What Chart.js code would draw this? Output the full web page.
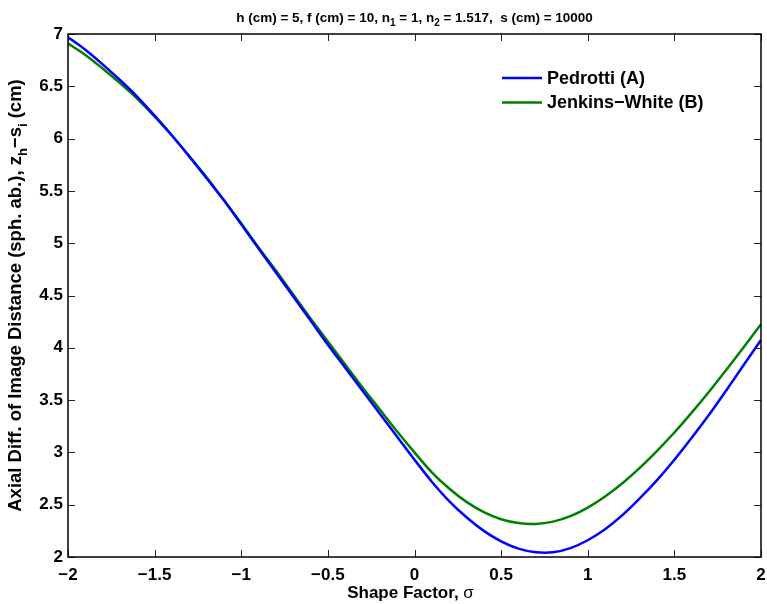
<!DOCTYPE html>
<html>
<head>
<meta charset="utf-8">
<script src="https://cdn.jsdelivr.net/npm/chart.js@4.4.1/dist/chart.umd.min.js"></script>
<style>
  html, body { margin: 0; padding: 0; background: #fff; }
  #wrap { width: 767px; height: 604px; }
</style>
</head>
<body>
<div id="wrap"><canvas id="c" width="767" height="604"></canvas></div>
<script>
// Shape factor values and the axial image-distance difference for each lens model
const sigma = [
  -2.0, -1.9, -1.8, -1.7, -1.6, -1.5, -1.4, -1.3, -1.2, -1.1, -1.0,
  -0.9, -0.8, -0.7, -0.6, -0.5, -0.4, -0.3, -0.2, -0.1, 0.0,
  0.1, 0.2, 0.3, 0.4, 0.5, 0.6, 0.7, 0.8, 0.9, 1.0,
  1.1, 1.2, 1.3, 1.4, 1.5, 1.6, 1.7, 1.8, 1.9, 2.0
];
const pedrotti = [
  6.97, 6.85, 6.71, 6.56, 6.40, 6.22, 6.03, 5.83, 5.62, 5.41, 5.18,
  4.95, 4.72, 4.49, 4.26, 4.03, 3.81, 3.59, 3.37, 3.15, 2.93,
  2.72, 2.535, 2.38, 2.25, 2.15, 2.08, 2.045, 2.045, 2.085, 2.16,
  2.265, 2.40, 2.56, 2.735, 2.93, 3.14, 3.36, 3.595, 3.835, 4.075
];
const jenkinsWhite = [
  6.91, 6.80, 6.67, 6.53, 6.38, 6.21, 6.03, 5.83, 5.63, 5.41, 5.19,
  4.96, 4.74, 4.51, 4.28, 4.06, 3.84, 3.62, 3.41, 3.20, 3.00,
  2.81, 2.655, 2.527, 2.429, 2.361, 2.324, 2.316, 2.338, 2.39, 2.472,
  2.578, 2.705, 2.852, 3.015, 3.19, 3.38, 3.58, 3.79, 4.005, 4.225
];
const xTickValues = [-2, -1.5, -1, -0.5, 0, 0.5, 1, 1.5, 2];
const yTickValues = [2, 2.5, 3, 3.5, 4, 4.5, 5, 5.5, 6, 6.5, 7];
const seriesNames = ['Pedrotti (A)', 'Jenkins\u2212White (B)'];

const FONT = '"Liberation Sans", Arial, Helvetica, sans-serif';

function toPoints(xs, ys) { return xs.map((x, i) => ({ x: x, y: ys[i] })); }
function fmt(v) { return String(v).replace('-', '\u2212'); }

// Text runs with optional subscript pieces
function richWidth(ctx, parts, size) {
  let w = 0;
  for (const p of parts) {
    ctx.font = (p.normal ? '' : 'bold ') + (p.sub ? Math.round(size * 0.72) : size) + 'px ' + FONT;
    w += ctx.measureText(p.t).width;
  }
  return w;
}
function drawRich(ctx, parts, x, y, size) {
  let cx = x;
  for (const p of parts) {
    const s = p.sub ? Math.round(size * 0.72) : size;
    ctx.font = (p.normal ? '' : 'bold ') + s + 'px ' + FONT;
    ctx.fillText(p.t, cx, p.sub ? y + size * 0.32 : y);
    cx += ctx.measureText(p.t).width;
  }
}

const decorations = {
  id: 'decorations',
  afterDatasetsDraw(chart) {
    const ctx = chart.ctx;
    const a = chart.chartArea;
    const xs = chart.scales.x, ys = chart.scales.y;
    ctx.save();
    // inward ticks on all four sides
    ctx.strokeStyle = '#222';
    ctx.lineWidth = 1;
    const tl = 7;
    ctx.beginPath();
    xs.ticks.forEach(t => {
      const px = Math.round(xs.getPixelForValue(t.value)) + 0.5;
      ctx.moveTo(px, a.bottom); ctx.lineTo(px, a.bottom - tl);
      ctx.moveTo(px, a.top); ctx.lineTo(px, a.top + tl);
    });
    ys.ticks.forEach(t => {
      const py = Math.round(ys.getPixelForValue(t.value)) + 0.5;
      ctx.moveTo(a.left, py); ctx.lineTo(a.left + tl, py);
      ctx.moveTo(a.right, py); ctx.lineTo(a.right - tl, py);
    });
    ctx.stroke();
    // axes box
    ctx.strokeStyle = '#000';
    ctx.lineWidth = 1.5;
    ctx.strokeRect(a.left, a.top, a.right - a.left, a.bottom - a.top);

    ctx.fillStyle = '#000';
    ctx.textBaseline = 'alphabetic';
    // title
    const title = [
      { t: 'h (cm) = 5, f (cm) = 10, n' }, { t: '1', sub: true },
      { t: ' = 1, n' }, { t: '2', sub: true },
      { t: ' = 1.517,  s (cm) = 10000' }
    ];
    const tSize = 13.5;
    const tw = richWidth(ctx, title, tSize);
    drawRich(ctx, title, (a.left + a.right) / 2 - tw / 2, 22, tSize);

    // x axis title
    const xt = [{ t: 'Shape Factor, ' }, { t: '\u03c3', normal: true }];
    const xSize = 17;
    const xw = richWidth(ctx, xt, xSize);
    drawRich(ctx, xt, (a.left + a.right) / 2 - 4 - xw / 2, 598, xSize);

    // y axis title (rotated)
    const yt = [
      { t: 'Axial Diff. of Image Distance (sph. ab.), z' }, { t: 'h', sub: true },
      { t: '\u2212s' }, { t: 'i', sub: true }, { t: ' (cm)' }
    ];
    const ySize = 18.5;
    const yw = richWidth(ctx, yt, ySize);
    ctx.save();
    ctx.translate(21, (a.top + a.bottom) / 2);
    ctx.rotate(-Math.PI / 2);
    drawRich(ctx, yt, -yw / 2, 0, ySize);
    ctx.restore();

    // legend
    const lx = 502, ly = 78, gap = 24.5;
    chart.data.datasets.forEach((ds, i) => {
      const y = ly + i * gap;
      ctx.strokeStyle = ds.borderColor;
      ctx.lineWidth = 2.5;
      ctx.beginPath(); ctx.moveTo(lx, y); ctx.lineTo(lx + 40, y); ctx.stroke();
      ctx.fillStyle = '#000';
      ctx.font = 'bold 18px ' + FONT;
      ctx.textBaseline = 'middle';
      ctx.fillText(ds.label, lx + 45, y + 1);
    });
    ctx.restore();
  }
};

new Chart(document.getElementById('c'), {
  type: 'line',
  data: {
    datasets: [
      { label: seriesNames[0], data: toPoints(sigma, pedrotti), borderColor: '#0000ff', borderWidth: 2.5, pointRadius: 0, tension: 0.3, fill: false },
      { label: seriesNames[1], data: toPoints(sigma, jenkinsWhite), borderColor: '#008000', borderWidth: 2.5, pointRadius: 0, tension: 0.3, fill: false }
    ]
  },
  options: {
    responsive: false,
    animation: false,
    devicePixelRatio: 1,
    layout: { padding: { left: 0, top: 34, right: 6, bottom: 0 } },
    plugins: { legend: { display: false }, title: { display: false }, tooltip: { enabled: false } },
    scales: {
      x: {
        type: 'linear', min: -2, max: 2,
        afterBuildTicks: s => { s.ticks = xTickValues.map(v => ({ value: v })); },
        afterFit: s => { s.height = 47; s.paddingLeft = 0; s.paddingRight = 0; },
        grid: { display: false, drawTicks: false },
        border: { display: false },
        ticks: { color: '#000', padding: 8, font: { family: FONT, size: 17, weight: 'bold' }, callback: v => fmt(v), maxRotation: 0, autoSkip: false }
      },
      y: {
        type: 'linear', min: 2, max: 7,
        afterBuildTicks: s => { s.ticks = yTickValues.map(v => ({ value: v })); },
        afterFit: s => { s.width = 68; s.paddingTop = 0; s.paddingBottom = 0; },
        grid: { display: false, drawTicks: false },
        border: { display: false },
        ticks: { color: '#000', padding: 5, font: { family: FONT, size: 17, weight: 'bold' }, callback: v => fmt(v), autoSkip: false }
      }
    }
  },
  plugins: [decorations]
});
</script>
</body>
</html>
